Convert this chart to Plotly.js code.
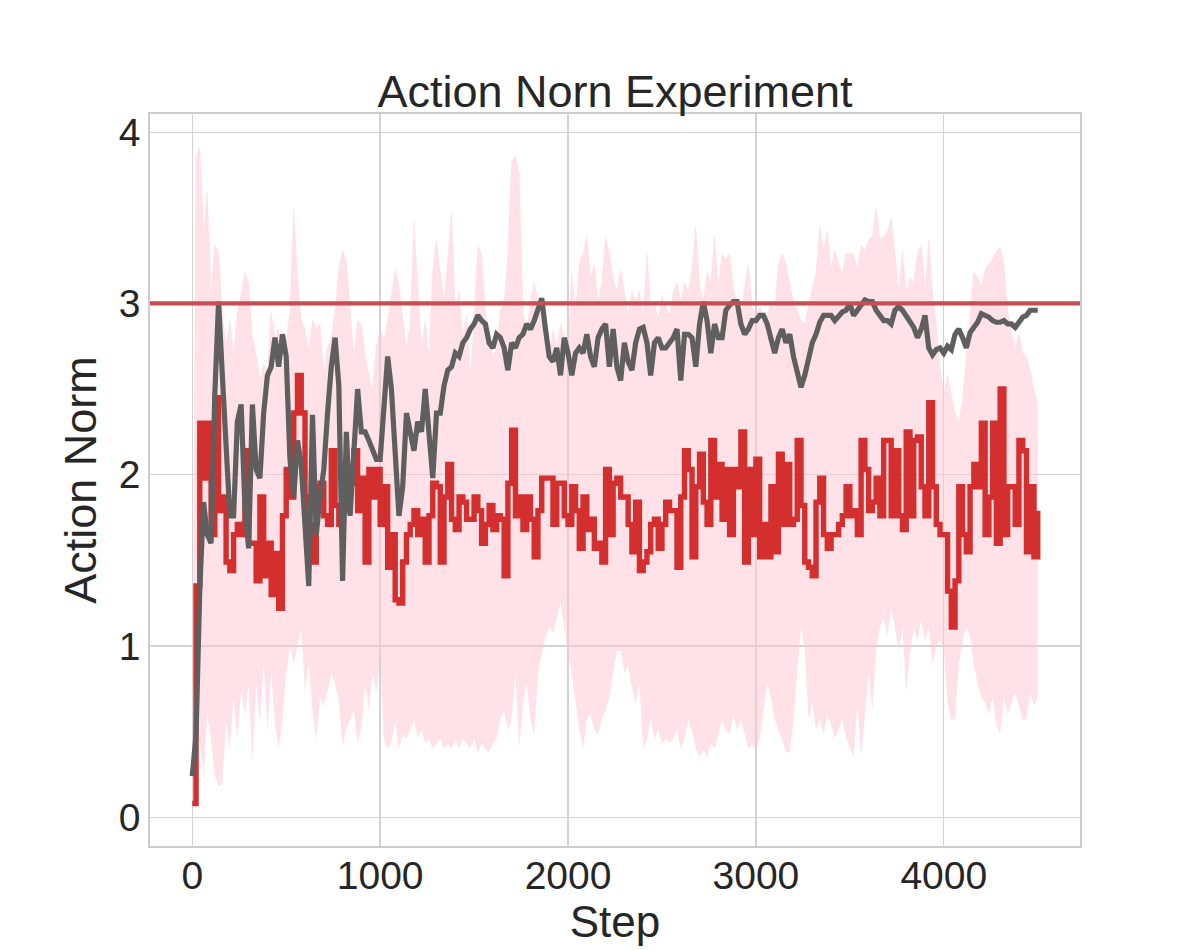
<!DOCTYPE html>
<html>
<head>
<meta charset="utf-8">
<script src="https://cdn.plot.ly/plotly-3.0.1.min.js"></script>
<style>html,body{margin:0;padding:0;background:#fff;}#chart{width:1200px;height:950px;}</style>
</head>
<body>
<div id="chart"></div>
<script>
// Steps: every 20 from 0 to 4500
const stepStart = 0;
const stepSize = 20;

const grayMean = [
0.24,0.48,1.33,1.84,1.65,1.60,2.47,3.01,2.58,2.09,
1.76,1.76,2.31,2.41,1.82,1.57,2.41,2.03,1.98,2.36,
2.58,2.63,2.80,2.63,2.82,2.69,2.09,1.87,2.20,2.06,
1.65,1.35,2.35,1.65,1.87,2.03,2.36,2.63,2.80,2.52,
1.38,2.25,1.76,2.20,2.50,2.25,2.25,2.20,2.14,2.09,
2.09,2.36,2.69,2.50,2.15,1.76,1.93,2.36,2.25,2.14,
2.31,2.25,2.50,2.20,1.98,2.36,2.36,2.52,2.61,2.63,
2.71,2.69,2.77,2.80,2.85,2.88,2.93,2.90,2.88,2.77,
2.74,2.82,2.80,2.74,2.61,2.77,2.74,2.80,2.82,2.88,
2.85,2.90,2.96,3.03,2.85,2.69,2.66,2.74,2.58,2.80,
2.71,2.58,2.71,2.74,2.71,2.82,2.69,2.63,2.80,2.85,
2.88,2.63,2.85,2.63,2.55,2.77,2.66,2.61,2.77,2.85,
2.86,2.77,2.58,2.77,2.80,2.74,2.74,2.77,2.80,2.85,
2.55,2.82,2.82,2.80,2.63,2.88,3.01,2.90,2.71,2.88,
2.80,2.80,2.96,2.99,3.01,3.01,2.88,2.82,2.85,2.90,
2.90,2.93,2.93,2.88,2.80,2.71,2.80,2.85,2.77,2.82,
2.69,2.61,2.51,2.58,2.69,2.77,2.82,2.89,2.93,2.93,
2.93,2.90,2.93,2.95,2.96,3.00,2.93,2.96,2.99,3.02,
3.01,3.01,2.96,2.93,2.90,2.90,2.88,2.96,2.98,2.96,
2.93,2.90,2.86,2.80,2.85,2.93,2.74,2.70,2.73,2.74,
2.71,2.75,2.73,2.82,2.85,2.80,2.74,2.83,2.86,2.89,
2.94,2.93,2.92,2.90,2.89,2.89,2.90,2.88,2.88,2.86,
2.89,2.92,2.93,2.96,2.96,2.96
];

const redMean = [
0.08,1.35,2.30,1.98,2.30,1.65,2.45,1.79,1.87,1.49,
1.44,1.65,1.71,1.65,2.14,1.60,1.60,1.38,1.87,1.41,
1.60,1.30,1.54,1.22,1.76,2.03,1.87,2.36,2.58,2.36,
1.87,1.71,1.49,1.93,1.95,1.76,1.71,2.14,1.82,1.71,
1.93,1.79,1.95,2.14,1.79,1.98,1.49,2.03,1.87,2.03,
1.71,1.93,1.46,1.65,1.27,1.25,1.49,1.65,1.71,1.79,
1.65,1.74,1.49,1.76,1.95,1.93,1.49,1.87,2.06,1.74,
1.68,1.87,1.84,1.74,1.74,1.87,1.79,1.60,1.71,1.82,
1.68,1.76,1.74,1.41,1.95,2.26,1.76,1.87,1.68,1.87,
1.74,1.52,1.79,1.98,1.98,1.98,1.71,1.95,1.95,1.76,
1.71,1.93,1.79,1.57,1.87,1.68,1.74,1.57,1.60,1.49,
2.03,1.65,1.95,1.98,1.87,1.87,1.71,1.55,1.84,1.44,
1.49,1.55,1.71,1.74,1.57,1.71,1.84,1.79,1.79,1.46,
1.87,2.14,2.03,1.52,1.93,2.12,1.84,1.71,2.20,1.87,
2.06,1.74,2.03,1.65,2.03,1.93,2.25,1.49,2.03,1.65,
2.09,1.52,1.71,1.52,1.93,1.55,2.12,1.71,2.06,1.71,
1.74,2.20,1.82,1.49,1.46,1.41,1.84,1.98,1.65,1.57,
1.65,1.65,1.71,1.76,1.93,1.76,1.79,1.65,2.20,2.03,
1.79,1.84,1.98,1.76,2.20,2.20,1.76,2.14,1.76,1.68,
2.25,1.76,2.20,2.22,1.93,1.76,2.42,1.93,1.71,1.65,
1.65,1.32,1.11,1.38,1.93,1.65,1.55,1.93,2.06,1.93,
2.30,1.65,1.87,2.30,1.60,2.50,1.65,1.93,1.93,1.71,
2.20,2.14,1.55,1.93,1.52,1.79
];

const bandUpper = [
0.35,3.85,3.91,3.40,3.65,3.05,3.34,3.30,2.95,2.75,
2.90,2.70,2.95,3.05,3.18,3.12,2.80,2.70,2.55,2.65,
2.60,2.95,2.80,2.85,2.62,2.78,2.95,3.55,3.15,2.90,
2.85,2.72,2.90,2.85,2.88,2.58,2.75,2.80,2.95,3.20,
3.31,3.25,3.00,2.70,2.90,2.88,2.70,2.58,2.50,2.75,
2.85,2.78,2.90,3.05,3.20,3.10,2.93,2.74,2.88,3.48,
3.10,2.74,2.90,2.69,3.20,3.37,3.18,3.01,3.26,3.53,
2.96,3.07,2.80,2.93,2.58,2.90,3.34,3.29,2.96,2.80,
2.69,2.74,2.96,3.01,3.29,3.83,3.86,3.75,2.96,2.82,
3.01,3.12,3.01,2.96,2.80,2.69,2.85,2.74,2.88,2.80,
2.74,3.18,2.96,3.23,3.29,3.39,3.15,3.23,3.01,3.12,
3.39,3.29,3.15,3.07,3.20,3.07,2.93,3.07,3.01,3.07,
2.93,3.29,2.96,3.01,2.90,3.04,2.98,2.93,3.07,3.12,
3.01,3.12,3.07,3.20,3.45,3.10,3.01,3.18,3.12,3.39,
3.10,3.29,3.26,3.29,3.10,2.98,2.93,3.10,3.23,2.98,
2.93,2.98,2.93,2.93,3.01,2.96,3.23,3.29,3.23,3.12,
3.01,2.96,2.90,2.88,2.98,3.10,3.18,3.45,3.31,3.42,
3.20,3.31,3.23,3.18,3.29,3.29,3.29,3.20,3.34,3.31,
3.37,3.39,3.56,3.37,3.39,3.42,3.50,3.29,3.07,3.31,
3.07,3.15,3.12,3.29,3.34,3.07,3.37,3.07,2.88,2.63,
2.47,2.58,2.47,2.36,2.31,2.44,2.69,2.96,3.18,3.15,
3.10,3.20,3.23,3.26,3.30,3.33,3.23,2.96,2.82,2.74,
2.82,2.71,2.69,2.61,2.50,2.41
];

const bandLower = [
0.05,0.30,0.45,0.24,0.60,0.45,0.24,0.18,0.20,0.55,
0.40,0.70,0.45,0.73,0.60,0.78,0.32,0.78,0.55,0.90,
0.50,0.85,0.55,0.40,0.57,0.85,1.00,0.90,1.00,1.10,
0.73,0.90,0.62,0.45,0.70,0.65,0.73,0.84,0.78,0.68,
0.41,0.52,0.57,0.62,0.43,0.52,0.78,0.62,0.84,0.73,
0.95,0.45,0.40,0.43,0.57,0.40,0.48,0.46,0.51,0.57,
0.46,0.51,0.43,0.46,0.40,0.43,0.46,0.40,0.43,0.40,
0.46,0.40,0.46,0.43,0.40,0.46,0.38,0.43,0.40,0.38,
0.43,0.46,0.57,0.62,0.51,0.57,0.84,0.40,0.67,0.78,
0.57,0.48,0.84,0.95,1.05,1.11,1.08,1.16,1.25,1.11,
0.95,0.84,0.67,0.51,0.40,0.57,0.60,0.51,0.48,0.57,
0.62,0.70,0.84,0.97,0.97,0.84,0.89,0.76,0.67,0.78,
0.40,0.46,0.57,0.46,0.51,0.43,0.46,0.43,0.46,0.51,
0.40,0.46,0.57,0.51,0.40,0.35,0.40,0.35,0.43,0.40,
0.48,0.57,0.51,0.48,0.60,0.51,0.57,0.48,0.40,0.43,
0.38,0.46,0.62,0.78,0.70,0.57,0.51,0.46,0.38,0.38,
0.57,0.84,1.11,0.97,0.57,0.67,0.51,0.57,0.48,0.60,
0.54,0.46,0.51,0.57,0.46,0.40,0.35,0.67,0.35,0.60,
0.84,0.62,0.97,1.11,1.16,1.06,1.22,1.11,0.97,1.11,
0.73,0.95,1.11,1.03,1.16,1.03,1.11,0.89,1.00,1.03,
0.97,0.67,0.57,0.57,0.89,1.03,1.11,1.06,0.89,0.78,
0.70,0.67,0.60,0.70,0.54,0.49,0.70,0.60,0.67,0.73,
0.65,0.57,0.57,0.73,0.65,0.70
];

const threshold = 3;
const xTicks = [0, 1000, 2000, 3000, 4000];
const yTicks = [0, 1, 2, 3, 4];

const FONT = "Liberation Sans, Arial, Helvetica, sans-serif";
const TXT = "#262626";

const traces = [
  {type: "scatter", mode: "lines", x0: stepStart, dx: stepSize, y: bandLower,
   line: {width: 0, color: "rgba(0,0,0,0)"}, hoverinfo: "skip", showlegend: false},
  {type: "scatter", mode: "lines", x0: stepStart, dx: stepSize, y: bandUpper,
   fill: "tonexty", fillcolor: "rgba(255,200,210,0.52)",
   line: {width: 0.6, color: "rgba(255,205,213,0.5)"}, hoverinfo: "skip", showlegend: false},
  {type: "scatter", mode: "lines", x0: stepStart, dx: stepSize, y: redMean,
   line: {width: 5.4, color: "#D32F2F", shape: "hv"}, showlegend: false},
  {type: "scatter", mode: "lines", x0: stepStart, dx: stepSize, y: grayMean,
   line: {width: 5.2, color: "#5F5F5F"}, showlegend: false}
];

const layout = {
  width: 1200, height: 950,
  paper_bgcolor: "#ffffff", plot_bgcolor: "#ffffff",
  margin: {l: 150, r: 120, t: 114, b: 104, pad: 0},
  font: {family: FONT, color: TXT},
  showlegend: false,
  title: {text: "Action Norn Experiment", font: {family: FONT, size: 45, color: TXT},
          xref: "paper", x: 0.5, xanchor: "center", yref: "container", y: 0.904, yanchor: "middle"},
  xaxis: {
    range: [-225, 4725], tickvals: xTicks, ticktext: xTicks.map(String),
    showgrid: true, gridcolor: "#d3d3d3", gridwidth: 1.3, zeroline: false,
    showline: true, mirror: true, linecolor: "#cccccc", linewidth: 1.8,
    ticks: "", ticklabelstandoff: -6,
    tickfont: {family: FONT, size: 39, color: TXT},
    title: {text: "Step", font: {family: FONT, size: 44, color: TXT}, standoff: 11}
  },
  yaxis: {
    range: [-0.168, 4.106], tickvals: yTicks, ticktext: yTicks.map(String),
    showgrid: true, gridcolor: "#d3d3d3", gridwidth: 1.3, zeroline: false,
    showline: true, mirror: true, linecolor: "#cccccc", linewidth: 1.8,
    ticks: "", ticklabelstandoff: 0,
    tickfont: {family: FONT, size: 39, color: TXT},
    title: {text: "Action Norm", font: {family: FONT, size: 45, color: TXT}, standoff: 8}
  },
  shapes: [
    {type: "line", xref: "paper", x0: 0, x1: 1, yref: "y", y0: threshold, y1: threshold,
     line: {color: "#C44E52", width: 4.2}, layer: "above"}
  ]
};

Plotly.newPlot("chart", traces, layout, {displayModeBar: false, staticPlot: true});
</script>
</body>
</html>
